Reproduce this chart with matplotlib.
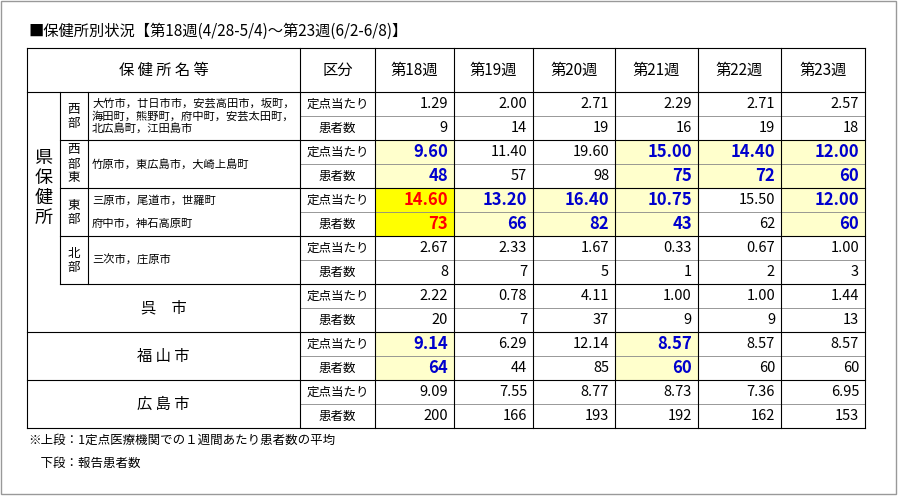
import matplotlib.pyplot as plt
from matplotlib.patches import Rectangle

plt.rcParams["font.family"] = "Noto Sans CJK JP"

title = "■保健所別状況【第18週(4/28-5/4)～第23週(6/2-6/8)】"
weeks = ["第18週", "第19週", "第20週", "第21週", "第22週", "第23週"]
groups = ["西\n部", "西\n部\n東", "東\n部", "北\n部", "呉　市", "福 山 市", "広 島 市"]
areas = [
    "大竹市，廿日市市，安芸高田市，坂町，\n海田町，熊野町，府中町，安芸太田町，\n北広島町，江田島市",
    "竹原市，東広島市，大崎上島町",
    "三原市，尾道市，世羅町\n\n府中市，神石高原町",
    "三次市，庄原市",
    "", "", "",
]
rate = [
    ["1.29", "2.00", "2.71", "2.29", "2.71", "2.57"],
    ["9.60", "11.40", "19.60", "15.00", "14.40", "12.00"],
    ["14.60", "13.20", "16.40", "10.75", "15.50", "12.00"],
    ["2.67", "2.33", "1.67", "0.33", "0.67", "1.00"],
    ["2.22", "0.78", "4.11", "1.00", "1.00", "1.44"],
    ["9.14", "6.29", "12.14", "8.57", "8.57", "8.57"],
    ["9.09", "7.55", "8.77", "8.73", "7.36", "6.95"],
]
count = [
    [9, 14, 19, 16, 19, 18],
    [48, 57, 98, 75, 72, 60],
    [73, 66, 82, 43, 62, 60],
    [8, 7, 5, 1, 2, 3],
    [20, 7, 37, 9, 9, 13],
    [64, 44, 85, 60, 60, 60],
    [200, 166, 193, 192, 162, 153],
]
# highlight: 0 none, 1 blue on light yellow, 2 red on yellow
marks = [
    [0, 0, 0, 0, 0, 0],
    [1, 0, 0, 1, 1, 1],
    [2, 1, 1, 1, 0, 1],
    [0, 0, 0, 0, 0, 0],
    [0, 0, 0, 0, 0, 0],
    [1, 0, 0, 1, 0, 0],
    [0, 0, 0, 0, 0, 0],
]
notes = ["※上段：1定点医療機関での１週間あたり患者数の平均", "　下段：報告患者数"]

W, H = 898, 496
fig = plt.figure(figsize=(W / 100, H / 100), dpi=100)
ax = fig.add_axes([0, 0, 1, 1])
ax.set_xlim(0, W)
ax.set_ylim(H, 0)
ax.axis("off")

ax.add_patch(Rectangle((1, 1), W - 3, H - 3, fill=False, ec="#999999", lw=1))
ax.text(28, 31, title, fontsize=11, va="center")

L, X1, X2, X3, X4 = 27, 60, 88, 300, 375
xs = [375, 454, 533, 615, 698, 781, 865]
top, hdr = 48, 92
rh = 24
lw = 0.8

# header
ax.text((X2 + X3) / 2 - 30, (top + hdr) / 2, "保 健 所 名 等", ha="center", va="center", fontsize=11)
ax.text((X3 + X4) / 2, (top + hdr) / 2, "区分", ha="center", va="center", fontsize=11)
for i, w in enumerate(weeks):
    ax.text((xs[i] + xs[i + 1]) / 2, (top + hdr) / 2, w, ha="center", va="center", fontsize=11)

for g in range(len(groups)):
    y0 = hdr + g * 2 * rh
    for r, vals in enumerate([rate[g], count[g]]):
        yc = y0 + r * rh + rh / 2
        ax.text((X3 + X4) / 2, yc, ["定点当たり", "患者数"][r], ha="center", va="center", fontsize=9)
        for i, v in enumerate(vals):
            m = marks[g][i]
            if m:
                fc = "#ffff00" if m == 2 else "#ffffcc"
                ax.add_patch(Rectangle((xs[i], y0 + r * rh), xs[i + 1] - xs[i], rh, fc=fc, ec="none"))
            col = {0: "black", 1: "#0000cc", 2: "#ff0000"}[m]
            ax.text(xs[i + 1] - 6, yc, str(v), ha="right", va="center", fontsize=12 if m else 10.5,
                    color=col, fontweight="bold" if m else "normal")
    ax.plot([X3, xs[-1]], [y0 + rh, y0 + rh], color="#888888", lw=0.6)
    if g < 4:
        ax.text((X1 + X2) / 2, y0 + rh, groups[g], ha="center", va="center", fontsize=9, linespacing=1.1)
        ax.text(X2 + 4, y0 + rh, areas[g], ha="left", va="center", fontsize=8.1, linespacing=1.2)
        ax.plot([X1, xs[-1]], [y0 + 2 * rh] * 2, color="black", lw=lw)
    else:
        ax.text((L + X3) / 2, y0 + rh, groups[g], ha="center", va="center", fontsize=11)
        ax.plot([L, xs[-1]], [y0 + 2 * rh] * 2, color="black", lw=lw)

bot = hdr + len(groups) * 2 * rh
ax.text((L + X1) / 2, hdr + 4 * rh, "県\n保\n健\n所", ha="center", va="center", fontsize=13, linespacing=1.15)

ax.plot([L, xs[-1]], [top, top], color="black", lw=lw)
ax.plot([L, xs[-1]], [hdr, hdr], color="black", lw=lw)
ax.plot([L, L], [top, bot], color="black", lw=lw)
ax.plot([X1, X1], [hdr, hdr + 8 * rh], color="black", lw=lw)
ax.plot([X2, X2], [hdr, hdr + 8 * rh], color="black", lw=lw)
for x in [X3] + xs:
    ax.plot([x, x], [top, bot], color="black", lw=lw)

ax.text(28, 440, notes[0], fontsize=9, va="center")
ax.text(28, 463, notes[1], fontsize=9, va="center")

fig.savefig("out.png", dpi=100)
